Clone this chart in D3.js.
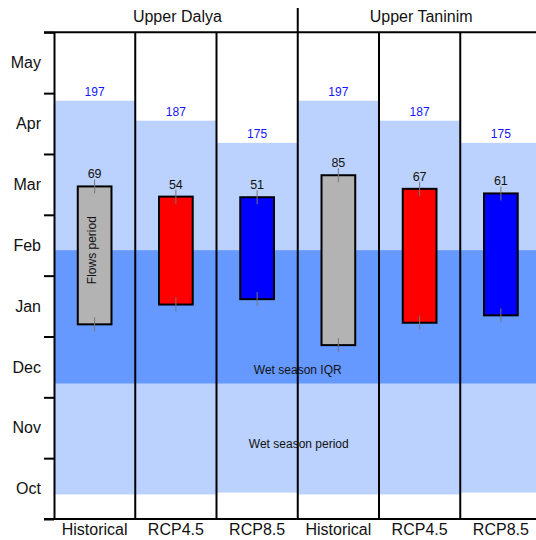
<!DOCTYPE html>
<html>
<head>
<meta charset="utf-8">
<script src="https://cdn.jsdelivr.net/npm/d3@7"></script>
<style>
  body { margin: 0; background: #fff; }
  text { font-family: "Liberation Sans", Arial, sans-serif; }
</style>
</head>
<body>
<svg id="chart" width="536" height="540"></svg>
<script>
// basins and scenarios (one column per basin x scenario)
const basins = ["Upper Dalya", "Upper Taninim"];
const scenarios = ["Historical", "RCP4.5", "RCP8.5"];
const months = ["Oct", "Nov", "Dec", "Jan", "Feb", "Mar", "Apr", "May"];

// wet season, days since 1 Oct (same for both basins)
const wetStart = [12.3, 12.3, 13.2];
const wetLength = [197, 187, 175];
const wetIQR = [67.8, 134.5];

// flows period, days since 1 Oct
const flowStartDalya = [97.4, 107.3, 110];
const flowLengthDalya = [69, 54, 51];
const flowStartTaninim = [87, 98.2, 101.9];
const flowLengthTaninim = [85, 67, 61];

const barColors = ["#b3b3b3", "#ff0000", "#0000ff"];
const daysPerMonth = 30.44;

const svg = d3.select("#chart");
const mLeft = 54, mRight = 541.5, mTop = 32.3, mBottom = 519;

var cols = [];
basins.forEach(function (b, bi) {
  scenarios.forEach(function (s, si) {
    cols.push({
      key: b + "|" + s, basin: bi, scen: s, si: si,
      wetStart: wetStart[si], wetLen: wetLength[si],
      flowStart: bi === 0 ? flowStartDalya[si] : flowStartTaninim[si],
      flowLen: bi === 0 ? flowLengthDalya[si] : flowLengthTaninim[si]
    });
  });
});

var x = d3.scaleBand().domain(cols.map(d => d.key)).range([mLeft, mRight]);
var y = d3.scaleLinear().domain([0, months.length * daysPerMonth]).range([mBottom, mTop]);
var bw = x.bandwidth() * 0.415;

// wet season period
svg.append("g").selectAll("rect").data(cols).enter().append("rect")
  .attr("x", d => x(d.key))
  .attr("width", x.bandwidth())
  .attr("y", d => y(d.wetStart + d.wetLen))
  .attr("height", d => y(d.wetStart) - y(d.wetStart + d.wetLen))
  .attr("fill", "#bbd2fe");

// wet season IQR
svg.append("rect")
  .attr("x", mLeft).attr("width", mRight - mLeft)
  .attr("y", y(wetIQR[1])).attr("height", y(wetIQR[0]) - y(wetIQR[1]))
  .attr("fill", "#6699ff");

// wet season length labels
svg.append("g").selectAll("text").data(cols).enter().append("text")
  .attr("x", d => x(d.key) + x.bandwidth() / 2)
  .attr("y", d => y(d.wetStart + d.wetLen) - 5)
  .attr("text-anchor", "middle")
  .attr("font-size", 12)
  .attr("fill", "#1515ff")
  .text(d => d.wetLen);

// flows period bars
svg.append("g").selectAll("rect").data(cols).enter().append("rect")
  .attr("x", d => x(d.key) + (x.bandwidth() - bw) / 2)
  .attr("width", bw)
  .attr("y", d => y(d.flowStart + d.flowLen))
  .attr("height", d => y(d.flowStart) - y(d.flowStart + d.flowLen))
  .attr("fill", d => barColors[d.si])
  .attr("stroke", "#000")
  .attr("stroke-width", 2);

// small gray marks at start/end of flows
var tickHalf = 3.5;
var marks = svg.append("g").attr("stroke", "#777").attr("stroke-width", 1);
cols.forEach(function (d) {
  [d.flowStart, d.flowStart + d.flowLen].forEach(function (v) {
    marks.append("line")
      .attr("x1", x(d.key) + x.bandwidth() / 2).attr("x2", x(d.key) + x.bandwidth() / 2)
      .attr("y1", y(v + tickHalf)).attr("y2", y(v - tickHalf));
  });
});

// flows length labels
svg.append("g").selectAll("text").data(cols).enter().append("text")
  .attr("x", d => x(d.key) + x.bandwidth() / 2)
  .attr("y", d => y(d.flowStart + d.flowLen) - 8)
  .attr("text-anchor", "middle")
  .attr("font-size", 12.5)
  .attr("fill", "#111")
  .text(d => d.flowLen);

// column dividers
svg.append("g").selectAll("line").data(cols.slice(1)).enter().append("line")
  .attr("x1", d => x(d.key)).attr("x2", d => x(d.key))
  .attr("y1", d => d.si === 0 ? 8 : mTop).attr("y2", mBottom)
  .attr("stroke", "#000").attr("stroke-width", 2);

// top and bottom frame lines
[mTop, mBottom].forEach(function (v) {
  svg.append("line")
    .attr("x1", mLeft - 10).attr("x2", mRight)
    .attr("y1", v).attr("y2", v)
    .attr("stroke", "#000").attr("stroke-width", 2);
});

// y axis: month boundaries as ticks, names in between
var yAxis = d3.axisLeft(y)
  .tickValues(d3.range(months.length + 1).map(i => i * daysPerMonth))
  .tickSize(10).tickSizeOuter(0).tickFormat("");
var ga = svg.append("g").attr("transform", "translate(" + mLeft + ",0)").call(yAxis);
ga.selectAll("path, line").attr("stroke", "#000").attr("stroke-width", 2);

svg.append("g").selectAll("text").data(months).enter().append("text")
  .attr("x", mLeft - 13)
  .attr("y", (d, i) => y((i + 0.5) * daysPerMonth))
  .attr("dy", "0.35em")
  .attr("text-anchor", "end")
  .attr("font-size", 16)
  .attr("fill", "#111")
  .text(d => d);

// x labels
svg.append("g").selectAll("text").data(cols).enter().append("text")
  .attr("x", d => x(d.key) + x.bandwidth() / 2)
  .attr("y", mBottom + 16)
  .attr("text-anchor", "middle")
  .attr("font-size", 16)
  .attr("fill", "#111")
  .text(d => d.scen);

// basin titles
svg.append("g").selectAll("text").data(basins).enter().append("text")
  .attr("x", (d, i) => mLeft + (mRight - mLeft) / 4 * (2 * i + 1) + 1.5)
  .attr("y", 21.5)
  .attr("text-anchor", "middle")
  .attr("font-size", 16)
  .attr("fill", "#111")
  .text(d => d);

// annotations
var firstCol = cols[0];
svg.append("text")
  .attr("transform", "translate(" + (x(firstCol.key) + x.bandwidth() / 2) + "," + y(wetIQR[1]) + ") rotate(-90)")
  .attr("dy", "0.1em")
  .attr("text-anchor", "middle")
  .attr("font-size", 12)
  .attr("fill", "#111")
  .text("Flows period");

var midX = (mLeft + mRight) / 2;
svg.append("text")
  .attr("x", midX).attr("y", y(wetIQR[0]) - 9)
  .attr("text-anchor", "middle").attr("font-size", 12).attr("fill", "#111")
  .text("Wet season IQR");

svg.append("text")
  .attr("x", midX + 1).attr("y", y(35.5))
  .attr("text-anchor", "middle").attr("font-size", 12).attr("fill", "#111")
  .text("Wet season period");
</script>
</body>
</html>
